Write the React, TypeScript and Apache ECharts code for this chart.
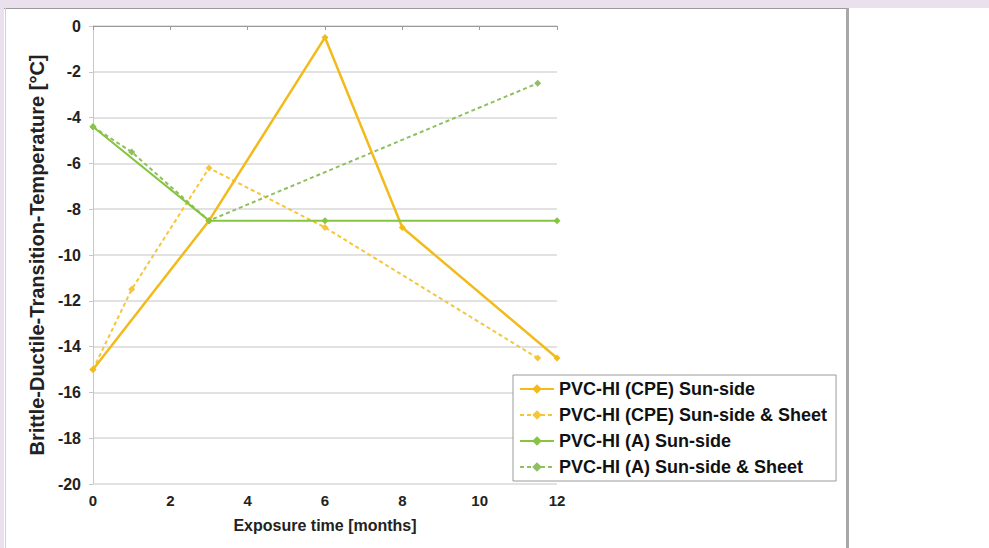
import React, { useEffect, useRef } from "react";
import * as echarts from "echarts";

const seriesNames = [
  "PVC-HI (CPE) Sun-side",
  "PVC-HI (CPE) Sun-side & Sheet",
  "PVC-HI (A) Sun-side",
  "PVC-HI (A) Sun-side & Sheet",
];

const cpeSunX = [0, 3, 6, 8, 12];
const cpeSunY = [-15, -8.5, -0.5, -8.8, -14.5];

const cpeSheetX = [0, 1, 3, 6, 11.5];
const cpeSheetY = [-15, -11.5, -6.2, -8.8, -14.5];

const aSunX = [0, 3, 6, 12];
const aSunY = [-4.4, -8.5, -8.5, -8.5];

const aSheetX = [0, 1, 3, 11.5];
const aSheetY = [-4.4, -5.5, -8.5, -2.5];

const xTicks = [0, 2, 4, 6, 8, 10, 12];
const yTicks = [0, -2, -4, -6, -8, -10, -12, -14, -16, -18, -20];

const xTitle = "Exposure time [months]";
const yTitle = "Brittle-Ductile-Transition-Temperature [°C]";

const zip = (xs: number[], ys: number[]) => xs.map((x, i) => [x, ys[i]]);

export default function App() {
  const ref = useRef<HTMLDivElement>(null);
  useEffect(() => {
    document.body.style.margin = "0";
    const chart = echarts.init(ref.current!, null, { renderer: "svg" });
    const font = "Arial, 'Liberation Sans', sans-serif";
    const mk = (
      name: string,
      data: number[][],
      color: string,
      dashed: boolean,
      width: number
    ) => ({
      name,
      type: "line",
      data,
      symbol: "diamond",
      symbolSize: 7,
      itemStyle: { color },
      lineStyle: { color, width, type: dashed ? [4, 3] : "solid" },
      z: dashed ? 2 : 3,
    });
    chart.setOption({
      animation: false,
      backgroundColor: "#ffffff",
      graphic: [
        { type: "rect", shape: { x: 0, y: 0, width: 989, height: 8 }, style: { fill: "#ebe0ee" }, silent: true },
        { type: "rect", shape: { x: 0, y: 0, width: 4, height: 548 }, style: { fill: "#ebe0ee" }, silent: true },
        { type: "line", shape: { x1: 4, y1: 8.5, x2: 848, y2: 8.5 }, style: { stroke: "#9a9a9a", lineWidth: 1 }, silent: true },
        { type: "line", shape: { x1: 5.5, y1: 8, x2: 5.5, y2: 548 }, style: { stroke: "#d0d0d0", lineWidth: 1 }, silent: true },
        { type: "line", shape: { x1: 847.5, y1: 8, x2: 847.5, y2: 548 }, style: { stroke: "#a8a8a8", lineWidth: 3 }, silent: true },
      ],
      grid: { left: 93, right: 432, top: 26, bottom: 64 },
      legend: {
        data: seriesNames,
        orient: "vertical",
        left: 513,
        top: 375,
        itemWidth: 34,
        itemHeight: 12,
        itemGap: 8,
        padding: [5, 9, 5, 6],
        borderColor: "#9a9a9a",
        borderWidth: 1,
        backgroundColor: "#ffffff",
        textStyle: { fontFamily: font, fontWeight: "bold", fontSize: 18, color: "#111" },
      },
      xAxis: {
        type: "value",
        min: 0,
        max: 12,
        interval: 2,
        name: xTitle,
        nameLocation: "middle",
        nameGap: 33,
        nameTextStyle: { fontFamily: font, fontWeight: "bold", fontSize: 16, color: "#222" },
        axisLine: { show: true, lineStyle: { color: "#9a9a9a", width: 1 } },
        axisTick: { show: true, length: 4, lineStyle: { color: "#9a9a9a" } },
        axisLabel: {
          fontFamily: font,
          fontWeight: "bold",
          fontSize: 15,
          color: "#222",
          margin: 9,
          formatter: (v: number) => (xTicks.includes(v) ? String(v) : ""),
        },
        splitLine: { show: false },
      },
      yAxis: {
        type: "value",
        min: -20,
        max: 0,
        interval: 2,
        name: yTitle,
        nameLocation: "middle",
        nameGap: 46,
        nameTextStyle: { fontFamily: font, fontWeight: "bold", fontSize: 20, color: "#222" },
        axisLine: { show: true, lineStyle: { color: "#c8c8c8", width: 1 } },
        axisTick: { show: true, length: 4, lineStyle: { color: "#c8c8c8" } },
        axisLabel: {
          fontFamily: font,
          fontWeight: "bold",
          fontSize: 16,
          color: "#222",
          margin: 12,
          formatter: (v: number) => (yTicks.includes(v) ? String(v) : ""),
        },
        splitLine: { show: true, lineStyle: { color: "#d9d9d9", width: 1.5 } },
      },
      series: [
        mk(seriesNames[0], zip(cpeSunX, cpeSunY), "#f2bb1b", false, 2.5),
        mk(seriesNames[1], zip(cpeSheetX, cpeSheetY), "#f5c63a", true, 2),
        mk(seriesNames[2], zip(aSunX, aSunY), "#86c441", false, 2),
        mk(seriesNames[3], zip(aSheetX, aSheetY), "#8fbf5e", true, 2),
      ],
    });
    return () => chart.dispose();
  }, []);
  return (
    <div
      ref={ref}
      style={{ position: "absolute", left: 0, top: 0, width: 989, height: 548 }}
    />
  );
}
